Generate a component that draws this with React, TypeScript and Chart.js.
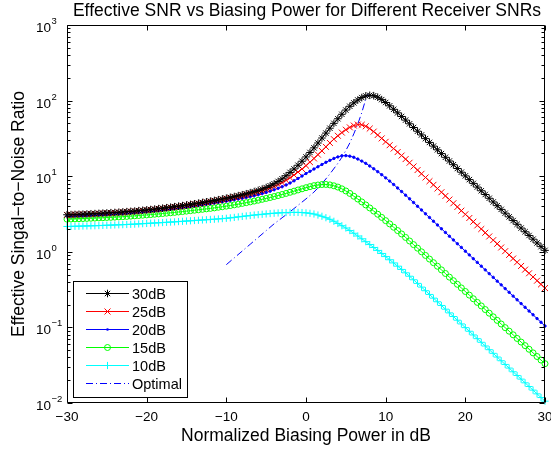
import { useEffect, useRef } from "react";
import { Chart, registerables } from "chart.js";

Chart.register(...registerables);

const FONT = '"Liberation Sans", Arial, Helvetica, sans-serif';

const titleText = "Effective SNR vs Biasing Power for Different Receiver SNRs";
const xLabelText = "Normalized Biasing Power in dB";
const yLabelText = "Effective Singal\u2212to\u2212Noise Ratio";

// Normalized biasing power (dB)
const biasDb = [
  -30, -29.5, -29, -28.5, -28, -27.5, -27, -26.5, -26, -25.5,
  -25, -24.5, -24, -23.5, -23, -22.5, -22, -21.5, -21, -20.5,
  -20, -19.5, -19, -18.5, -18, -17.5, -17, -16.5, -16, -15.5,
  -15, -14.5, -14, -13.5, -13, -12.5, -12, -11.5, -11, -10.5,
  -10, -9.5, -9, -8.5, -8, -7.5, -7, -6.5, -6, -5.5,
  -5, -4.5, -4, -3.5, -3, -2.5, -2, -1.5, -1, -0.5,
  0, 0.5, 1, 1.5, 2, 2.5, 3, 3.5, 4, 4.5,
  5, 5.5, 6, 6.5, 7, 7.5, 8, 8.5, 9, 9.5,
  10, 10.5, 11, 11.5, 12, 12.5, 13, 13.5, 14, 14.5,
  15, 15.5, 16, 16.5, 17, 17.5, 18, 18.5, 19, 19.5,
  20, 20.5, 21, 21.5, 22, 22.5, 23, 23.5, 24, 24.5,
  25, 25.5, 26, 26.5, 27, 27.5, 28, 28.5, 29, 29.5,
  30,
];

// Effective SNR, stored in dB (10*log10 of the ratio)
const snr30dB = [
  4.90, 4.92, 4.94, 4.96, 4.98, 5.00, 5.03, 5.05, 5.08, 5.11,
  5.14, 5.17, 5.20, 5.23, 5.27, 5.31, 5.35, 5.39, 5.44, 5.49,
  5.54, 5.59, 5.65, 5.71, 5.77, 5.83, 5.90, 5.97, 6.04, 6.11,
  6.19, 6.27, 6.35, 6.43, 6.52, 6.61, 6.70, 6.79, 6.89, 6.99,
  7.09, 7.20, 7.31, 7.43, 7.55, 7.68, 7.82, 7.96, 8.12, 8.30,
  8.50, 8.74, 9.00, 9.31, 9.65, 10.06, 10.50, 10.96, 11.45, 11.98,
  12.55, 13.14, 13.75, 14.39, 15.05, 15.70, 16.35, 16.99, 17.60, 18.19,
  18.75, 19.25, 19.70, 20.08, 20.40, 20.62, 20.70, 20.65, 20.45, 20.13,
  19.75, 19.31, 18.85, 18.38, 17.90, 17.42, 16.93, 16.44, 15.95, 15.46,
  14.97, 14.47, 13.98, 13.49, 12.99, 12.50, 12.01, 11.52, 11.02, 10.53,
  10.04, 9.55, 9.05, 8.56, 8.07, 7.58, 7.08, 6.59, 6.10, 5.61,
  5.11, 4.62, 4.13, 3.64, 3.14, 2.65, 2.16, 1.67, 1.17, 0.68,
  0.19,
];

const snr25dB = [
  4.88, 4.90, 4.92, 4.94, 4.96, 4.98, 5.01, 5.03, 5.06, 5.08,
  5.11, 5.14, 5.17, 5.20, 5.24, 5.27, 5.31, 5.35, 5.40, 5.45,
  5.50, 5.55, 5.60, 5.66, 5.72, 5.78, 5.85, 5.91, 5.98, 6.05,
  6.13, 6.20, 6.28, 6.36, 6.45, 6.53, 6.62, 6.71, 6.81, 6.90,
  7.00, 7.10, 7.20, 7.31, 7.42, 7.53, 7.65, 7.77, 7.90, 8.06,
  8.25, 8.44, 8.65, 8.89, 9.15, 9.46, 9.80, 10.16, 10.55, 10.96,
  11.40, 11.86, 12.35, 12.85, 13.35, 13.88, 14.40, 14.90, 15.35, 15.77,
  16.15, 16.46, 16.70, 16.83, 16.80, 16.60, 16.30, 15.90, 15.45, 15.00,
  14.55, 14.10, 13.65, 13.19, 12.73, 12.26, 11.78, 11.29, 10.81, 10.32,
  9.83, 9.34, 8.86, 8.37, 7.88, 7.39, 6.91, 6.42, 5.93, 5.44,
  4.96, 4.47, 3.98, 3.49, 3.01, 2.52, 2.03, 1.54, 1.06, 0.57,
  0.08, -0.41, -0.89, -1.38, -1.87, -2.36, -2.84, -3.33, -3.82, -4.31,
  -4.80,
];

const snr20dB = [
  4.76, 4.77, 4.79, 4.81, 4.83, 4.85, 4.87, 4.89, 4.91, 4.93,
  4.96, 4.99, 5.02, 5.05, 5.08, 5.11, 5.15, 5.19, 5.23, 5.27,
  5.32, 5.37, 5.42, 5.47, 5.53, 5.59, 5.65, 5.71, 5.78, 5.85,
  5.92, 5.99, 6.07, 6.14, 6.22, 6.30, 6.38, 6.46, 6.54, 6.62,
  6.70, 6.79, 6.88, 6.98, 7.08, 7.19, 7.30, 7.42, 7.55, 7.70,
  7.85, 8.02, 8.20, 8.40, 8.60, 8.84, 9.10, 9.39, 9.70, 10.02,
  10.35, 10.65, 10.95, 11.25, 11.55, 11.84, 12.10, 12.35, 12.55, 12.70,
  12.72, 12.65, 12.50, 12.27, 12.00, 11.70, 11.35, 10.98, 10.60, 10.20,
  9.78, 9.35, 8.90, 8.44, 7.97, 7.49, 7.01, 6.52, 6.02, 5.53,
  5.03, 4.54, 4.04, 3.55, 3.05, 2.56, 2.06, 1.57, 1.07, 0.58,
  0.08, -0.41, -0.91, -1.40, -1.90, -2.39, -2.89, -3.38, -3.88, -4.37,
  -4.87, -5.36, -5.86, -6.35, -6.85, -7.34, -7.84, -8.33, -8.83, -9.32,
  -9.82,
];

const snr15dB = [
  4.32, 4.34, 4.36, 4.38, 4.40, 4.42, 4.44, 4.46, 4.49, 4.51,
  4.54, 4.56, 4.59, 4.62, 4.65, 4.68, 4.72, 4.76, 4.80, 4.84,
  4.88, 4.92, 4.97, 5.01, 5.06, 5.11, 5.16, 5.21, 5.27, 5.32,
  5.38, 5.44, 5.50, 5.56, 5.62, 5.68, 5.74, 5.81, 5.89, 5.96,
  6.04, 6.12, 6.21, 6.30, 6.40, 6.50, 6.60, 6.71, 6.82, 6.94,
  7.06, 7.18, 7.31, 7.44, 7.58, 7.72, 7.87, 8.02, 8.18, 8.33,
  8.48, 8.62, 8.75, 8.84, 8.90, 8.91, 8.85, 8.73, 8.56, 8.33,
  8.05, 7.72, 7.35, 6.98, 6.60, 6.20, 5.80, 5.39, 4.97, 4.55,
  4.12, 3.69, 3.25, 2.81, 2.36, 1.90, 1.43, 0.95, 0.48, 0.00,
  -0.48, -0.96, -1.44, -1.91, -2.39, -2.87, -3.35, -3.82, -4.30, -4.78,
  -5.25, -5.73, -6.21, -6.69, -7.16, -7.64, -8.12, -8.60, -9.07, -9.55,
  -10.03, -10.50, -10.98, -11.46, -11.94, -12.41, -12.89, -13.37, -13.85, -14.32,
  -14.80,
];

const snr10dB = [
  3.35, 3.36, 3.38, 3.39, 3.41, 3.42, 3.44, 3.45, 3.47, 3.49,
  3.51, 3.53, 3.55, 3.57, 3.59, 3.61, 3.64, 3.66, 3.69, 3.72,
  3.75, 3.78, 3.81, 3.84, 3.87, 3.90, 3.93, 3.96, 4.00, 4.03,
  4.07, 4.10, 4.14, 4.17, 4.21, 4.24, 4.28, 4.31, 4.35, 4.39,
  4.43, 4.49, 4.55, 4.62, 4.68, 4.74, 4.80, 4.86, 4.91, 4.96,
  5.01, 5.06, 5.10, 5.14, 5.17, 5.19, 5.21, 5.21, 5.21, 5.19,
  5.15, 5.09, 5.00, 4.86, 4.70, 4.51, 4.30, 4.04, 3.75, 3.45,
  3.15, 2.81, 2.45, 2.09, 1.72, 1.34, 0.96, 0.57, 0.18, -0.22,
  -0.63, -1.05, -1.47, -1.90, -2.33, -2.78, -3.23, -3.70, -4.18, -4.67,
  -5.15, -5.64, -6.13, -6.61, -7.10, -7.59, -8.08, -8.56, -9.05, -9.54,
  -10.03, -10.51, -11.00, -11.49, -11.97, -12.46, -12.95, -13.43, -13.92, -14.41,
  -14.90, -15.38, -15.87, -16.36, -16.84, -17.33, -17.82, -18.30, -18.79, -19.28,
  -19.76,
];

// Locus of the optimum biasing power
const optimalBiasDb = [-10, -9, -8, -7, -6, -5, -4, -3, -2, -1, 0, 1, 2, 3, 4, 4.5, 5, 5.5, 6, 6.5, 7, 7.5, 7.8];
const optimalSnrDb = [-1.7, -0.8, 0.1, 1.0, 1.9, 2.8, 3.7, 4.5, 5.3, 6.15, 7.0, 7.9, 9.0, 10.3, 11.7, 12.5, 13.4, 14.4, 15.6, 16.9, 18.4, 20.2, 20.9];

const xTickValues = [-30, -20, -10, 0, 10, 20, 30];
const xTickLabels = ["\u221230", "\u221220", "\u221210", "0", "10", "20", "30"];
const yTickExps = [-2, -1, 0, 1, 2, 3];
const yTickExpLabels = ["\u22122", "\u22121", "0", "1", "2", "3"];

const legendLabels = ["30dB", "25dB", "20dB", "15dB", "10dB", "Optimal"];
const seriesColors = ["#000000", "#ff0000", "#0000ff", "#00ff00", "#00ffff", "#0000ff"];
const seriesMarkers = ["star", "crossRot", "dot", "circle", "cross", "none"];

const fromDb = (v: number) => Math.pow(10, v / 10);

function drawMarker(ctx: CanvasRenderingContext2D, style: string, x: number, y: number, color: string) {
  ctx.save();
  ctx.strokeStyle = color;
  ctx.fillStyle = color;
  ctx.lineWidth = 1;
  ctx.beginPath();
  if (style === "star") {
    const r = 3.8, d = r * Math.SQRT1_2;
    ctx.moveTo(x - r, y); ctx.lineTo(x + r, y);
    ctx.moveTo(x, y - r); ctx.lineTo(x, y + r);
    ctx.moveTo(x - d, y - d); ctx.lineTo(x + d, y + d);
    ctx.moveTo(x - d, y + d); ctx.lineTo(x + d, y - d);
  }
  if (style === "cross") {
    const r = 3.6;
    ctx.moveTo(x - r, y); ctx.lineTo(x + r, y);
    ctx.moveTo(x, y - r); ctx.lineTo(x, y + r);
  }
  if (style === "crossRot") {
    const q = 3;
    ctx.moveTo(x - q, y - q); ctx.lineTo(x + q, y + q);
    ctx.moveTo(x - q, y + q); ctx.lineTo(x + q, y - q);
  }
  ctx.stroke();
  if (style === "circle") {
    ctx.beginPath();
    ctx.arc(x, y, 3, 0, Math.PI * 2);
    ctx.stroke();
  }
  if (style === "dot") {
    ctx.beginPath();
    ctx.arc(x, y, 1.3, 0, Math.PI * 2);
    ctx.fill();
  }
  ctx.restore();
}

const matlabAxes = {
  id: "matlabAxes",
  afterDraw(chart: any) {
    const { ctx, chartArea: a } = chart;
    const xs = chart.scales.x;
    const ys = chart.scales.y;
    const L = Math.round(a.left) + 0.5;
    const R = Math.round(a.right) - 0.5;
    const T = Math.round(a.top) + 0.5;
    const B = Math.round(a.bottom) - 0.5;
    ctx.save();
    ctx.strokeStyle = "#000";
    ctx.lineWidth = 1;
    ctx.beginPath();
    ctx.rect(L, T, R - L, B - T);
    ctx.stroke();

    // x ticks (bottom & top)
    ctx.beginPath();
    xTickValues.forEach((v) => {
      const px = Math.round(xs.getPixelForValue(v)) + 0.5;
      ctx.moveTo(px, B); ctx.lineTo(px, B - 5);
      ctx.moveTo(px, T); ctx.lineTo(px, T + 5);
    });
    // y ticks, major and minor (left & right)
    yTickExps.forEach((e) => {
      const py = Math.round(ys.getPixelForValue(Math.pow(10, e))) + 0.5;
      ctx.moveTo(L, py); ctx.lineTo(L + 5, py);
      ctx.moveTo(R, py); ctx.lineTo(R - 5, py);
      if (e < 3) {
        for (let k = 2; k <= 9; k++) {
          const pm = Math.round(ys.getPixelForValue(k * Math.pow(10, e))) + 0.5;
          ctx.moveTo(L, pm); ctx.lineTo(L + 3, pm);
          ctx.moveTo(R, pm); ctx.lineTo(R - 3, pm);
        }
      }
    });
    ctx.stroke();

    ctx.fillStyle = "#000";
    // x tick labels
    ctx.font = `13.5px ${FONT}`;
    ctx.textAlign = "center";
    ctx.textBaseline = "alphabetic";
    xTickValues.forEach((v, i) => {
      ctx.fillText(xTickLabels[i], xs.getPixelForValue(v), 421);
    });
    // y tick labels 10^e
    yTickExps.forEach((e, i) => {
      const py = ys.getPixelForValue(Math.pow(10, e));
      ctx.font = `13.5px ${FONT}`;
      ctx.textAlign = "right";
      ctx.fillText("10", 51, py + 7);
      ctx.font = `9.5px ${FONT}`;
      ctx.textAlign = "left";
      ctx.fillText(yTickExpLabels[i], 51.5, py - 1);
    });

    // title & axis labels
    const cx = (a.left + a.right) / 2;
    const cy = (a.top + a.bottom) / 2;
    ctx.font = `17.5px ${FONT}`;
    ctx.textAlign = "center";
    ctx.fillText(titleText, cx + 1, 16);
    ctx.fillText(xLabelText, cx, 441);
    ctx.save();
    ctx.translate(24, cy);
    ctx.rotate(-Math.PI / 2);
    ctx.fillText(yLabelText, 0, 0);
    ctx.restore();

    // legend
    const bx = 73.5, by = 281.5, bw = 114, bh = 116;
    ctx.fillStyle = "#fff";
    ctx.fillRect(bx, by, bw, bh);
    ctx.strokeStyle = "#000";
    ctx.strokeRect(bx, by, bw, bh);
    ctx.font = `14.5px ${FONT}`;
    ctx.textAlign = "left";
    ctx.textBaseline = "middle";
    legendLabels.forEach((lab, i) => {
      const y = 293.5 + i * 18;
      ctx.save();
      ctx.strokeStyle = seriesColors[i];
      ctx.lineWidth = 1;
      if (seriesMarkers[i] === "none") ctx.setLineDash([7, 3, 1, 3]);
      ctx.beginPath();
      ctx.moveTo(86, y); ctx.lineTo(129, y);
      ctx.stroke();
      ctx.restore();
      if (seriesMarkers[i] !== "none") drawMarker(ctx, seriesMarkers[i], 107.5, y, seriesColors[i]);
      ctx.fillStyle = "#000";
      ctx.fillText(lab, 132, y + 1);
    });
    ctx.restore();
  },
};

export default function App() {
  const canvasRef = useRef<HTMLCanvasElement | null>(null);

  useEffect(() => {
    const canvas = canvasRef.current;
    if (!canvas) return;
    const curves = [snr30dB, snr25dB, snr20dB, snr15dB, snr10dB];
    const pointStyles: any[] = ["star", "crossRot", "circle", "circle", "cross"];
    const radii = [3.8, 4.2, 1.2, 3, 3.6];
    const fills = ["#000000", "#ff0000", "#0000ff", "rgba(0,0,0,0)", "#00ffff"];
    const datasets: any[] = curves.map((vals, i) => ({
      label: legendLabels[i],
      data: vals.map((v, j) => ({ x: biasDb[j], y: fromDb(v) })),
      borderColor: seriesColors[i],
      backgroundColor: fills[i],
      borderWidth: 1,
      pointStyle: pointStyles[i],
      pointRadius: radii[i],
      pointBorderColor: seriesColors[i],
      pointBackgroundColor: fills[i],
      pointBorderWidth: 1,
      tension: 0,
      clip: false,
    }));
    datasets.push({
      label: legendLabels[5],
      data: optimalSnrDb.map((v, j) => ({ x: optimalBiasDb[j], y: fromDb(v) })),
      borderColor: seriesColors[5],
      borderWidth: 1,
      borderDash: [7, 3, 1, 3],
      pointRadius: 0,
      tension: 0,
      clip: false,
    });

    const chart = new Chart(canvas, {
      type: "line",
      data: { datasets },
      options: {
        responsive: false,
        animation: false,
        events: [],
        layout: { padding: { left: 67, right: 6, top: 25, bottom: 47 } },
        scales: {
          x: { type: "linear", min: -30, max: 30, display: false },
          y: { type: "logarithmic", min: 0.01, max: 1000, display: false },
        },
        plugins: {
          legend: { display: false },
          title: { display: false },
          tooltip: { enabled: false },
        },
      },
      plugins: [matlabAxes],
    });
    return () => chart.destroy();
  }, []);

  return (
    <div style={{ position: "fixed", left: 0, top: 0, width: 551, height: 450, background: "#fff" }}>
      <canvas ref={canvasRef} width={551} height={450} style={{ display: "block" }} />
    </div>
  );
}
